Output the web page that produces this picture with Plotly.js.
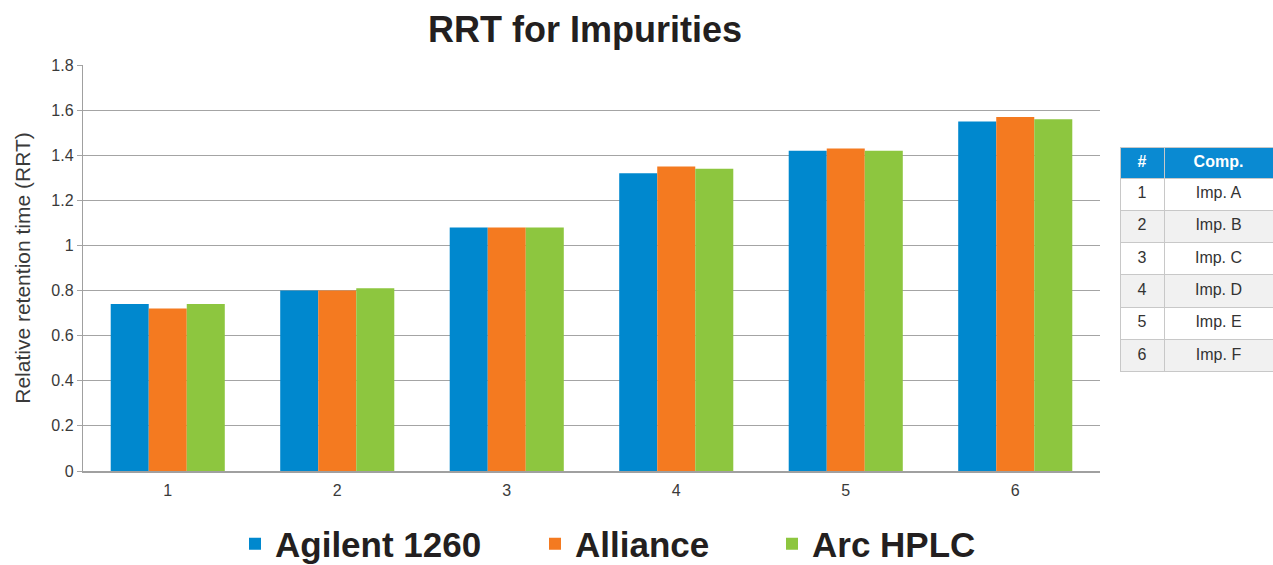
<!DOCTYPE html>
<html>
<head>
<meta charset="utf-8">
<script src="https://cdn.plot.ly/plotly-3.0.1.min.js"></script>
<style>
html,body{margin:0;padding:0;background:#fff;}
#chart{width:1273px;height:565px;}
</style>
</head>
<body>
<div id="chart"></div>
<script>
const categories = ["1", "2", "3", "4", "5", "6"];
const agilent1260 = [0.74, 0.80, 1.08, 1.32, 1.42, 1.55];
const alliance = [0.72, 0.80, 1.08, 1.35, 1.43, 1.57];
const arcHPLC = [0.74, 0.81, 1.08, 1.34, 1.42, 1.56];
const seriesNames = ["Agilent 1260", "Alliance", "Arc HPLC"];
const tableIds = ["1", "2", "3", "4", "5", "6"];
const tableComps = ["Imp. A", "Imp. B", "Imp. C", "Imp. D", "Imp. E", "Imp. F"];

const colors = ["#0088CE", "#F47A20", "#8DC63F"];
const W = 1273, H = 565;
const px = v => v / W;
const py = v => 1 - v / H;

const font = "Liberation Sans, Arial, sans-serif";

const traces = [
  {type: "bar", x: categories, y: agilent1260, name: seriesNames[0], marker: {color: colors[0]}, legend: "legend"},
  {type: "bar", x: categories, y: alliance, name: seriesNames[1], marker: {color: colors[1]}, legend: "legend2"},
  {type: "bar", x: categories, y: arcHPLC, name: seriesNames[2], marker: {color: colors[2]}, legend: "legend3"},
  {
    type: "table",
    domain: {x: [px(1120), 1], y: [py(385), py(147)]},
    columnwidth: [44, 109],
    header: {
      values: ["#", "Comp."],
      fill: {color: "#0A8AD2"},
      line: {color: "#C8C8C8", width: 1},
      font: {family: font, size: 16, color: "#FFFFFF", weight: "bold"},
      align: "center",
      height: 31
    },
    cells: {
      values: [tableIds, tableComps],
      fill: {color: [["#FFFFFF", "#F1F1F1", "#FFFFFF", "#F1F1F1", "#FFFFFF", "#F1F1F1"]]},
      line: {color: "#C8C8C8", width: 1},
      font: {family: font, size: 16, color: "#333333"},
      align: "center",
      height: 32.3
    }
  }
];

const legendCommon = {
  orientation: "h",
  xref: "paper",
  yref: "paper",
  yanchor: "middle",
  y: py(544),
  xanchor: "left",
  bgcolor: "rgba(0,0,0,0)",
  borderwidth: 0,
  font: {family: font, size: 35, color: "#231F20", weight: "bold"}
};

const layout = {
  width: W, height: H,
  margin: {l: 0, r: 0, t: 0, b: 0, autoexpand: false},
  paper_bgcolor: "#FFFFFF",
  plot_bgcolor: "#FFFFFF",
  title: {
    text: "<b>RRT for Impurities</b>",
    font: {family: font, size: 36, color: "#231F20"},
    x: px(585), xanchor: "center", xref: "container",
    y: py(29), yanchor: "middle", yref: "container"
  },
  barmode: "group",
  bargap: 0.327,
  bargroupgap: 0,
  xaxis: {
    domain: [px(83), px(1100)],
    type: "category",
    showgrid: false,
    showline: true,
    linecolor: "#A0A0A0",
    linewidth: 1.5,
    ticks: "",
    tickfont: {family: font, size: 16, color: "#3A3A3A"},
    ticklabelstandoff: 4,
    zeroline: false,
    fixedrange: true
  },
  yaxis: {
    domain: [py(471), py(65)],
    range: [0, 1.8],
    dtick: 0.2,
    showgrid: true,
    gridcolor: "#A4A4A4",
    gridwidth: 1.2,
    showline: true,
    linecolor: "#A0A0A0",
    linewidth: 1.2,
    ticks: "outside",
    ticklen: 5,
    tickcolor: "#A4A4A4",
    tickfont: {family: font, size: 16, color: "#3A3A3A"},
    zeroline: false,
    title: {
      text: "Relative retention time (RRT)",
      font: {family: font, size: 21, color: "#3A3A3A"},
      standoff: 15
    },
    automargin: false,
    fixedrange: true
  },
  legend: Object.assign({}, legendCommon, {x: px(235)}),
  legend2: Object.assign({}, legendCommon, {x: px(535)}),
  legend3: Object.assign({}, legendCommon, {x: px(772)}),
  showlegend: true
};

Plotly.newPlot("chart", traces, layout, {displayModeBar: false, staticPlot: true});
</script>
</body>
</html>
